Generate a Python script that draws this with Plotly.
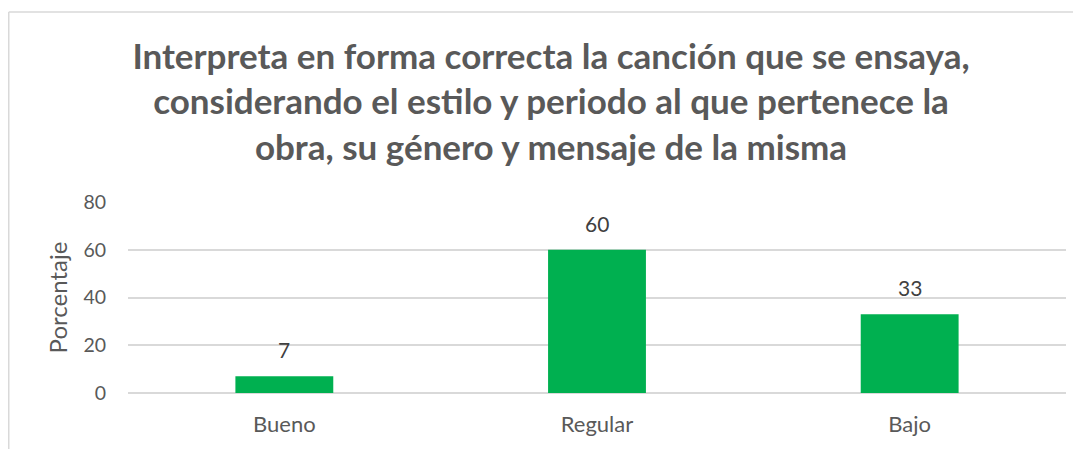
import plotly.graph_objects as go

categories = ["Bueno", "Regular", "Bajo"]
values = [7, 60, 33]
y_ticks = [0, 20, 40, 60, 80]
title_text = ("Interpreta en forma correcta la canción que se ensaya,<br>"
              "considerando el estilo y periodo al que pertenece la<br>"
              "obra, su género y mensaje de la misma")

# page has an 8px body margin; figure coordinates are page coordinates - 8
W, H = 1073, 441
ml, mr, mt, mb = 120, 15, 193.7, 55.7
pw = W - ml - mr
ph = H - mt - mb

fig = go.Figure(go.Bar(
    x=categories, y=values,
    marker=dict(color="#00B050", line=dict(width=0)),
    width=0.313,
))

for c, v in zip(categories, values):
    fig.add_annotation(x=c, y=v, text=str(v), showarrow=False, xref="x", yref="y",
                       yanchor="bottom", yshift=12,
                       font=dict(family="Lato", size=21, color="#404040"))

# chart border (left and top edges visible)
bx = (0.75 - ml) / pw
by = (H - mb - 3) / ph
fig.add_shape(type="line", xref="paper", yref="paper", x0=bx, x1=bx, y0=-1, y1=by,
              line=dict(color="#D9D9D9", width=1.5), layer="above")
fig.add_shape(type="line", xref="paper", yref="paper", x0=bx, x1=1.2, y0=by, y1=by,
              line=dict(color="#D9D9D9", width=1.5), layer="above")

fig.update_layout(
    width=W, height=H,
    margin=dict(l=ml, r=mr, t=mt, b=mb),
    paper_bgcolor="white", plot_bgcolor="white",
    showlegend=False,
    title=dict(text=title_text, x=543 / W, xanchor="center",
               y=1 - 60.5 / H, yanchor="top", yref="container",
               font=dict(family="Lato", size=35, color="#595959", weight="bold")),
    font=dict(family="Lato", color="#595959"),
)
fig.update_xaxes(showgrid=False, showline=False, ticks="", tickfont=dict(size=22, color="#595959"),
                 ticklabelstandoff=16)
fig.update_yaxes(range=[0, 80], tickvals=y_ticks, showgrid=True, gridcolor="#D9D9D9", gridwidth=1.5,
                 zeroline=True, zerolinecolor="#D9D9D9", zerolinewidth=1.5,
                 showline=False, ticks="", tickfont=dict(size=19.5, color="#595959"),
                 ticklabelstandoff=21,
                 title=dict(text="Porcentaje", font=dict(size=24, color="#595959"), standoff=8))

fig.write_html("out.html")
